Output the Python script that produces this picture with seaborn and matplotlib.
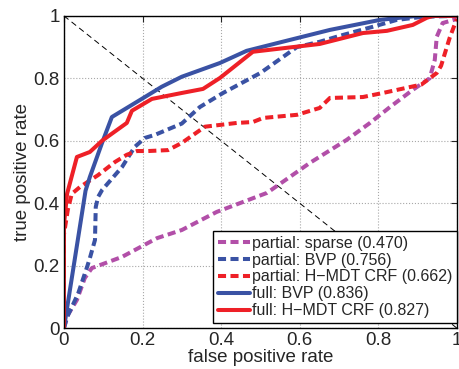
import pandas as pd
import seaborn as sns
import matplotlib.pyplot as plt

# ROC curves
sparse_part_x = [0, 0.01, 0.033, 0.053, 0.071, 0.148, 0.237, 0.30, 0.389, 0.517, 0.575, 0.626,
                 0.72, 0.779, 0.83, 0.888, 0.931, 0.944, 0.949, 0.964, 1.0]
sparse_part_y = [0, 0.042, 0.09, 0.16, 0.192, 0.228, 0.288, 0.314, 0.372, 0.433, 0.484, 0.529,
                 0.603, 0.657, 0.708, 0.763, 0.80, 0.859, 0.933, 0.977, 0.99]

bvp_part_x = [0, 0.008, 0.036, 0.059, 0.066, 0.079, 0.081, 0.087, 0.097, 0.148, 0.18, 0.206,
              0.232, 0.30, 0.346, 0.405, 0.50, 0.593, 0.651, 0.702, 0.786, 0.847, 0.913, 1.0]
bvp_part_y = [0, 0.035, 0.11, 0.196, 0.224, 0.282, 0.388, 0.42, 0.442, 0.516, 0.58, 0.609,
              0.619, 0.655, 0.708, 0.753, 0.817, 0.90, 0.917, 0.936, 0.965, 0.987, 0.997, 1.0]

crf_part_x = [0, 0.0, 0.01, 0.02, 0.041, 0.087, 0.13, 0.16, 0.186, 0.214, 0.265, 0.30, 0.359,
              0.44, 0.481, 0.507, 0.593, 0.651, 0.677, 0.761, 0.812, 0.91, 0.949, 0.96, 0.982, 1.0]
crf_part_y = [0, 0.30, 0.38, 0.43, 0.452, 0.49, 0.532, 0.555, 0.567, 0.567, 0.57, 0.593, 0.645,
              0.657, 0.66, 0.673, 0.683, 0.705, 0.737, 0.74, 0.753, 0.78, 0.817, 0.84, 0.93, 0.99]

bvp_full_x = [0, 0.055, 0.066, 0.097, 0.122, 0.206, 0.249, 0.30, 0.397, 0.465, 0.55, 0.677,
              0.804, 0.90, 1.0]
bvp_full_y = [0, 0.44, 0.484, 0.593, 0.676, 0.74, 0.773, 0.805, 0.849, 0.888, 0.915, 0.955,
              0.987, 1.0, 1.0]

crf_full_x = [0, 0.0, 0.004, 0.008, 0.033, 0.066, 0.097, 0.16, 0.173, 0.224, 0.30, 0.354,
              0.397, 0.481, 0.651, 0.761, 0.822, 0.888, 0.924, 0.94, 1.0]
crf_full_y = [0, 0.33, 0.38, 0.43, 0.548, 0.564, 0.60, 0.657, 0.696, 0.734, 0.753, 0.766,
              0.801, 0.885, 0.91, 0.945, 0.952, 0.971, 0.994, 1.0, 1.0]

labels = ["partial: sparse (0.470)", "partial: BVP (0.756)", "partial: H\u2212MDT CRF (0.662)",
          "full: BVP (0.836)", "full: H\u2212MDT CRF (0.827)"]

blue = "#3a52a4"
red = "#ee2027"
magenta = "#b24fa8"

sns.set_style("white")
plt.rcParams["font.family"] = ["Liberation Sans", "DejaVu Sans"]

fig = plt.figure(figsize=(4.6, 3.69), dpi=100)
ax = fig.add_axes([0.139, 0.111, 0.854, 0.846])

# chance diagonal
chance = pd.DataFrame({"x": [0, 1], "y": [1, 0]})
sns.lineplot(data=chance, x="x", y="y", ax=ax, color="k", linewidth=0.7,
             linestyle=(0, (6, 4)), estimator=None, sort=False)

curves = [
    (sparse_part_x, sparse_part_y, magenta, True),
    (bvp_part_x, bvp_part_y, blue, True),
    (crf_part_x, crf_part_y, red, True),
    (bvp_full_x, bvp_full_y, blue, False),
    (crf_full_x, crf_full_y, red, False),
]
for (xs, ys, color, dashed), label in zip(curves, labels):
    ls = (0, (2.0, 1.1)) if dashed else "-"
    sns.lineplot(x=xs, y=ys, ax=ax, color=color, linewidth=2.9, linestyle=ls,
                 estimator=None, sort=False, label=label)

ticks = [0, 0.2, 0.4, 0.6, 0.8, 1]
ticklabels = ["0", "0.2", "0.4", "0.6", "0.8", "1"]
ax.set_xlim(0, 1)
ax.set_ylim(0, 1)
ax.set_xticks(ticks)
ax.set_xticklabels(ticklabels)
ax.set_yticks(ticks)
ax.set_yticklabels(ticklabels)
ax.tick_params(direction="in", top=True, right=True, length=4, width=0.8,
               labelsize=13.5, pad=3)
ax.grid(True, linestyle=":", color="#a8a8a8", linewidth=0.8)
for side in ax.spines:
    ax.spines[side].set_color("k")
    ax.spines[side].set_linewidth(1.0)
ax.set_xlabel("false positive rate", fontsize=13.5, labelpad=0)
ax.set_ylabel("true positive rate", fontsize=13.5, labelpad=2)

leg = ax.legend(loc="lower right", bbox_to_anchor=(1.0, 0.016), fontsize=11.5,
                frameon=True, fancybox=False, edgecolor="k", framealpha=1,
                handlelength=2.0, handletextpad=0.1, labelspacing=0.12,
                borderpad=0.3, borderaxespad=0)
leg.get_frame().set_linewidth(1.0)

fig.savefig("out.png", dpi=100)
